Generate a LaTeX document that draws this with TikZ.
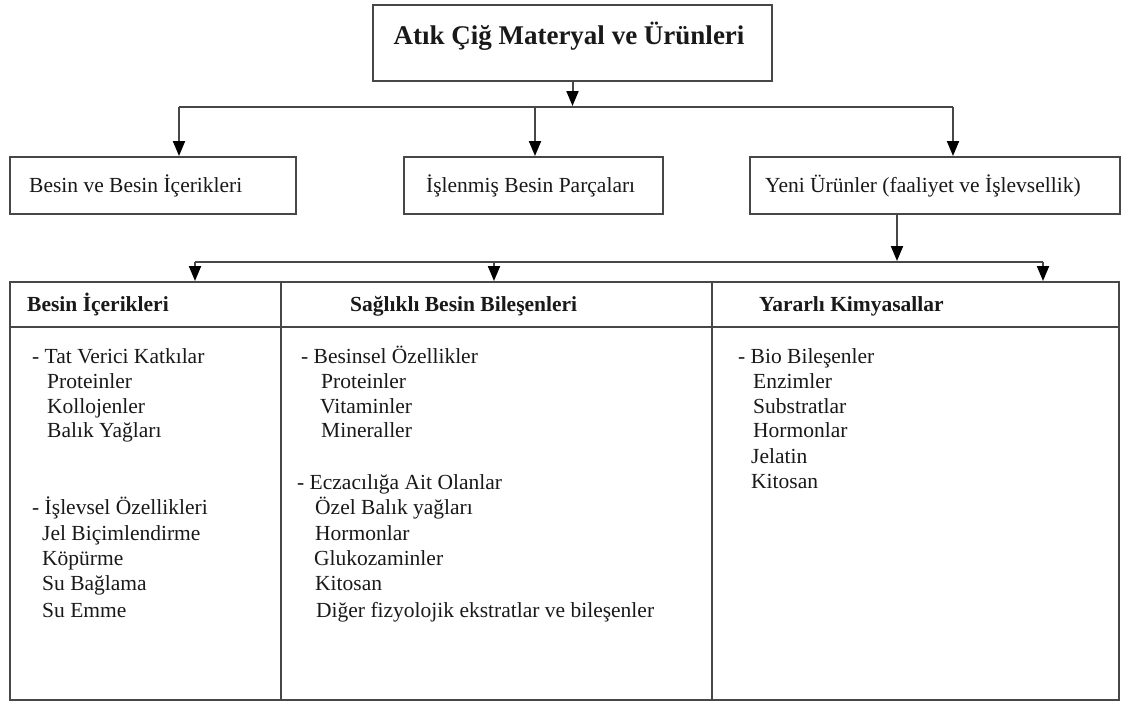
\documentclass[tikz,border=0pt]{standalone}
\usepackage{fontspec}
\setmainfont{Liberation Serif}
\usetikzlibrary{arrows.meta}
\begin{document}
\begin{tikzpicture}[x=1pt,y=-1pt,
  ln/.style={draw=black!72, line width=2pt},
  arr/.style={ln, -{Triangle[length=15pt,width=12pt,fill=black,color=black]}},
  box/.style={ln, rectangle, inner sep=0pt},
  txt/.style={anchor=base west, inner sep=0pt, font=\fontsize{21.5}{25}\selectfont, text=black!90},
  hdr/.style={txt, font=\fontsize{21.5}{25}\selectfont\bfseries}]
\useasboundingbox (0,0) rectangle (1128,704);
\fill[white] (0,0) rectangle (1128,704);

% top
\node[box, minimum width=399pt, minimum height=76pt] (top) at (572.5,43) {};
\node[txt, anchor=base, font=\fontsize{27}{30}\selectfont\bfseries] (title) at (569,44) {Atık Çiğ Materyal ve Ürünleri};

% second row
\node[box, minimum width=286pt, minimum height=57pt] (b1) at (153,185.5) {};
\node[box, minimum width=259pt, minimum height=57pt] (b2) at (533.5,185.5) {};
\node[box, minimum width=370pt, minimum height=57pt] (b3) at (935,185.5) {};
\node[txt] (t1) at (29,192) {Besin ve Besin İçerikleri};
\node[txt] (t2) at (426,192) {İşlenmiş Besin Parçaları};
\node[txt] (t3) at (765,192) {Yeni Ürünler (faaliyet ve İşlevsellik)};

% first connectors
\coordinate (s1) at (572.5,106);
\coordinate (h1a) at (179,107);
\coordinate (h1b) at (535,107);
\coordinate (h1c) at (953,107);
\draw[ln] (h1a) -- (h1c);
\draw[arr] (top.south) -- (s1);
\draw[arr] (h1a) -- (h1a |- b1.north);
\draw[arr] (h1b) -- (h1b |- b2.north);
\draw[arr] (h1c) -- (h1c |- b3.north);

% table
\node[box, minimum width=1109pt, minimum height=418pt] (tab) at (564.5,491) {};
\coordinate (hl) at (0,327);
\coordinate (d1) at (281,0);
\coordinate (d2) at (712,0);
\draw[ln] (tab.west |- hl) -- (tab.east |- hl);
\draw[ln] (d1 |- tab.north) -- (d1 |- tab.south);
\draw[ln] (d2 |- tab.north) -- (d2 |- tab.south);

% second connectors
\coordinate (s2) at (897,261);
\coordinate (h2a) at (195,262);
\coordinate (h2b) at (494,262);
\coordinate (h2c) at (1043,262);
\draw[ln] (h2a) -- (h2c);
\draw[arr] (s2 |- b3.south) -- (s2);
\draw[arr] (h2a) -- (h2a |- tab.north);
\draw[arr] (h2b) -- (h2b |- tab.north);
\draw[arr] (h2c) -- (h2c |- tab.north);

% headers
\node[hdr] (hd1) at (27,311) {Besin İçerikleri};
\node[hdr] (hd2) at (350,311) {Sağlıklı Besin Bileşenleri};
\node[hdr] (hd3) at (759,311) {Yararlı Kimyasallar};

% column 1
\node[txt] (a1) at (32,363) {- Tat Verici Katkılar};
\node[txt] (a2) at (47,388) {Proteinler};
\node[txt] (a3) at (47,413) {Kollojenler};
\node[txt] (a4) at (47,437) {Balık Yağları};
\node[txt] (a5) at (32,514) {- İşlevsel Özellikleri};
\node[txt] (a6) at (42,540) {Jel Biçimlendirme};
\node[txt] (a7) at (42,565) {Köpürme};
\node[txt] (a8) at (42,590) {Su Bağlama};
\node[txt] (a9) at (42,617) {Su Emme};

% column 2
\node[txt] (m1) at (301,363) {- Besinsel Özellikler};
\node[txt] (m2) at (321,388) {Proteinler};
\node[txt] (m3) at (320,413) {Vitaminler};
\node[txt] (m4) at (321,437) {Mineraller};
\node[txt] (m5) at (297,489) {- Eczacılığa Ait Olanlar};
\node[txt] (m6) at (315,514) {Özel Balık yağları};
\node[txt] (m7) at (315,540) {Hormonlar};
\node[txt] (m8) at (314,565) {Glukozaminler};
\node[txt] (m9) at (315,590) {Kitosan};
\node[txt] (m10) at (316,617) {Diğer fizyolojik ekstratlar ve bileşenler};

% column 3
\node[txt] (r1) at (738,363) {- Bio Bileşenler};
\node[txt] (r2) at (753,388) {Enzimler};
\node[txt] (r3) at (753,413) {Substratlar};
\node[txt] (r4) at (753,437) {Hormonlar};
\node[txt] (r5) at (751,463) {Jelatin};
\node[txt] (r6) at (751,488) {Kitosan};
\end{tikzpicture}
\end{document}
